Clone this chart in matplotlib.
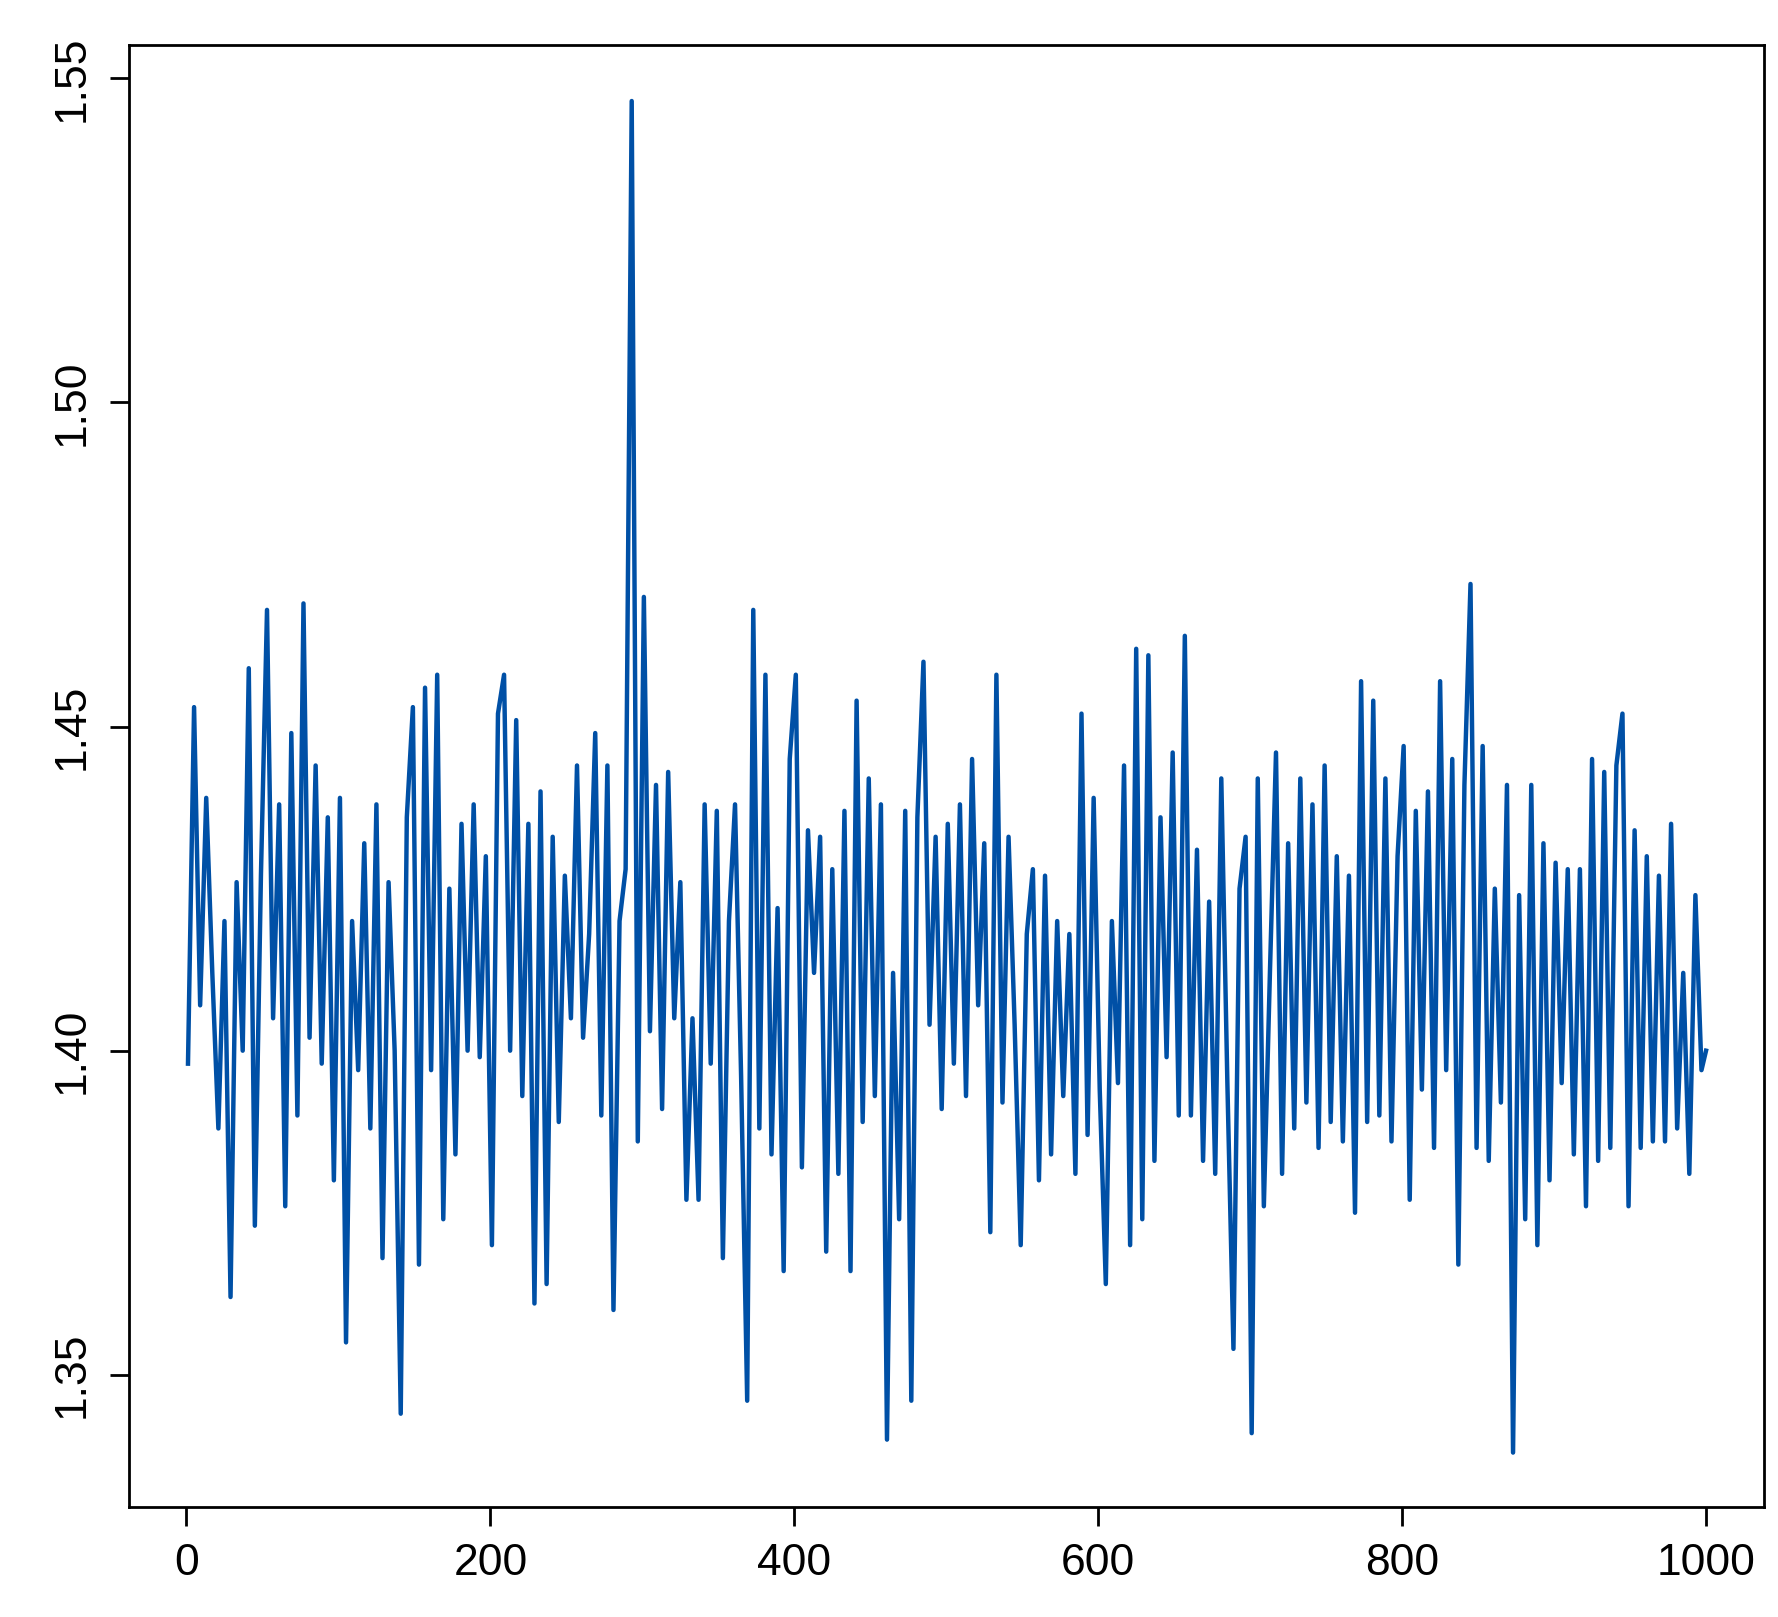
import matplotlib.pyplot as plt
import numpy as np

# values, one every 4 steps of the index
values = [
    1.398, 1.453, 1.407, 1.439, 1.412, 1.388, 1.420, 1.362, 1.426, 1.400,
    1.459, 1.373, 1.427, 1.468, 1.405, 1.438, 1.376, 1.449, 1.390, 1.469,
    1.402, 1.444, 1.398, 1.436, 1.380, 1.439, 1.355, 1.420, 1.397, 1.432,
    1.388, 1.438, 1.368, 1.426, 1.400, 1.344, 1.436, 1.453, 1.367, 1.456,
    1.397, 1.458, 1.374, 1.425, 1.384, 1.435, 1.400, 1.438, 1.399, 1.430,
    1.370, 1.452, 1.458, 1.400, 1.451, 1.393, 1.435, 1.361, 1.440, 1.364,
    1.433, 1.389, 1.427, 1.405, 1.444, 1.402, 1.418, 1.449, 1.390, 1.444,
    1.360, 1.420, 1.428, 1.5465, 1.386, 1.470, 1.403, 1.441, 1.391, 1.443,
    1.405, 1.426, 1.377, 1.405, 1.377, 1.438, 1.398, 1.437, 1.368, 1.420,
    1.438, 1.396, 1.346, 1.468, 1.388, 1.458, 1.384, 1.422, 1.366, 1.445,
    1.458, 1.382, 1.434, 1.412, 1.433, 1.369, 1.428, 1.381, 1.437, 1.366,
    1.454, 1.389, 1.442, 1.393, 1.438, 1.340, 1.412, 1.374, 1.437, 1.346,
    1.436, 1.460, 1.404, 1.433, 1.391, 1.435, 1.398, 1.438, 1.393, 1.445,
    1.407, 1.432, 1.372, 1.458, 1.392, 1.433, 1.404, 1.370, 1.418, 1.428,
    1.380, 1.427, 1.384, 1.420, 1.393, 1.418, 1.381, 1.452, 1.387, 1.439,
    1.394, 1.364, 1.420, 1.395, 1.444, 1.370, 1.462, 1.374, 1.461, 1.383,
    1.436, 1.399, 1.446, 1.390, 1.464, 1.390, 1.431, 1.383, 1.423, 1.381,
    1.442, 1.395, 1.354, 1.425, 1.433, 1.341, 1.442, 1.376, 1.412, 1.446,
    1.381, 1.432, 1.388, 1.442, 1.392, 1.438, 1.385, 1.444, 1.389, 1.430,
    1.386, 1.427, 1.375, 1.457, 1.389, 1.454, 1.390, 1.442, 1.386, 1.430,
    1.447, 1.377, 1.437, 1.394, 1.440, 1.385, 1.457, 1.397, 1.445, 1.367,
    1.441, 1.472, 1.385, 1.447, 1.383, 1.425, 1.392, 1.441, 1.338, 1.424,
    1.374, 1.441, 1.370, 1.432, 1.380, 1.429, 1.395, 1.428, 1.384, 1.428,
    1.376, 1.445, 1.383, 1.443, 1.385, 1.444, 1.452, 1.376, 1.434, 1.385,
    1.430, 1.386, 1.427, 1.386, 1.435, 1.388, 1.412, 1.381, 1.424, 1.397,
    1.400,
]
index = list(range(1, 1000, 4)) + [1000]

xticks = [0, 200, 400, 600, 800, 1000]
yticks = [1.35, 1.40, 1.45, 1.50, 1.55]

plt.rcParams['font.family'] = ['Liberation Sans', 'DejaVu Sans']

fig = plt.figure(figsize=(17.78, 16.17), dpi=100)
ax = fig.add_axes([0.0724, 0.068, 0.9196, 0.904])
ax.plot(index, values, color='#0050A6', lw=3.2)

ax.set_xlim(-38, 1038)
ax.set_ylim(1.3296, 1.5551)

for s in ax.spines.values():
    s.set_linewidth(2)
ax.set_xticks(xticks)
ax.set_xticklabels([str(t) for t in xticks])
ax.set_yticks(yticks)
ax.set_yticklabels([f"{t:.2f}" for t in yticks], rotation=90, va='center')
ax.tick_params(direction='out', length=14, width=2, labelsize=32, pad=12)

fig.savefig("out.png")
